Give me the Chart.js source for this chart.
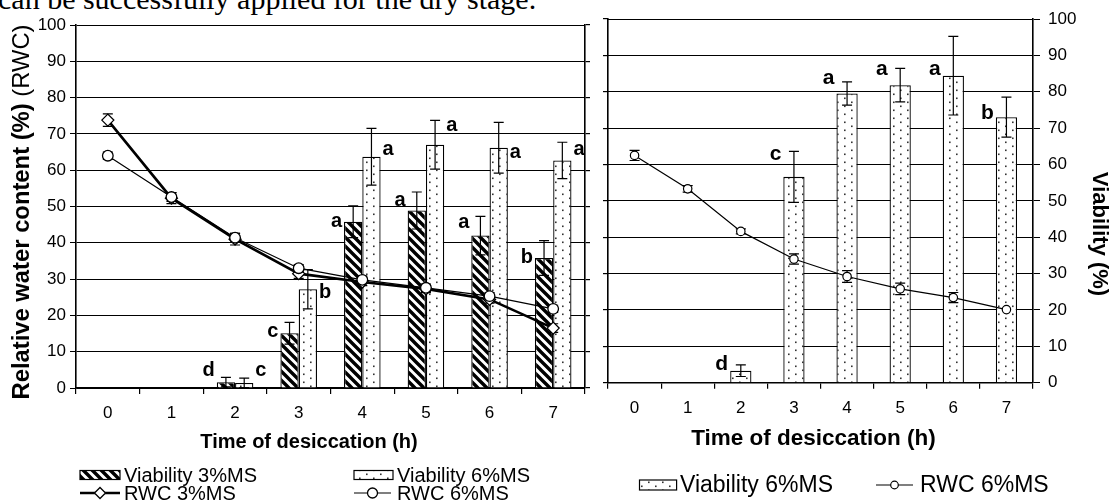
<!DOCTYPE html>
<html>
<head>
<meta charset="utf-8">
<script src="https://cdn.jsdelivr.net/npm/chart.js@4/dist/chart.umd.min.js"></script>
<style>
  html,body{margin:0;padding:0;background:#fff;}
  body{width:1114px;height:503px;overflow:hidden;position:relative;}
  #topText{position:absolute;left:-2px;top:-18.5px;font-family:"Liberation Serif","Times New Roman",serif;font-size:30px;line-height:34px;color:#000;white-space:nowrap;}
  #c1{position:absolute;left:0;top:0;}
  #c2{position:absolute;left:590px;top:0;}
</style>
</head>
<body>
<div id="topText">can be successfully applied for the dry stage.</div>
<canvas id="c1" width="600" height="503"></canvas>
<canvas id="c2" width="524" height="503"></canvas>
<script>
// ---------- data ----------
const categories = ['0','1','2','3','4','5','6','7'];
const yTicks = [0,10,20,30,40,50,60,70,80,90,100];

// left panel
const viab3      = [0, 0, 1.6, 15.1, 45.8, 48.9, 42.0, 35.8];
const viab3Err   = [0, 0, 1.3, 3.0, 4.4, 5.1, 5.3, 4.8];
const viab6L     = [0, 0, 1.4, 27.2, 63.7, 67.0, 66.2, 62.7];
const viab6LErr  = [0, 0, 1.3, 5.4, 7.8, 6.7, 7.0, 5.0];
const rwc3       = [73.8, 52.3, 41.0, 31.5, 29.2, 27.3, 24.4, 16.5];
const rwc3Err    = [1.7, 1.5, 1.6, 1.3, 1.0, 1.0, 1.0, 1.2];
const rwc6L      = [64.0, 52.6, 41.4, 33.0, 29.8, 27.6, 25.3, 21.8];
const rwc6LErr   = [1.0, 1.2, 1.2, 1.0, 1.0, 1.0, 1.0, 1.0];
const letters3   = ['', '', 'd', 'c', 'a', 'a', 'a', 'b'];
const letters3At = [null, null, 4.8, 15.6, 45.8, 51.6, 45.7, 36.0];
const letters6L  = ['', '', 'c', 'b', 'a', 'a', 'a', 'a'];
const letters6LAt= [null, null, 4.8, 26.3, 65.7, 72.2, 65.0, 65.6];

// right panel
const viab6R     = [0, 0, 3.3, 56.6, 79.5, 81.8, 84.4, 73.0];
const viab6RErr  = [0, 0, 1.6, 7.0, 3.2, 4.6, 10.8, 5.5];
const rwc6R      = [62.5, 53.3, 41.6, 34.0, 29.2, 25.8, 23.4, 20.1];
const rwc6RErr   = [1.4, 0.9, 0.7, 1.4, 1.6, 1.6, 1.4, 0];
const lettersR   = ['', '', 'd', 'c', 'a', 'a', 'a', 'b'];
const lettersRAt = [null, null, 5.2, 62.8, 83.7, 86.1, 86.1, 74.0];

// ---------- styling helpers ----------
const FONT = '"Liberation Sans", Arial, Helvetica, sans-serif';
Chart.defaults.font.family = FONT;
Chart.defaults.color = '#000';

function hatchPattern(){
  const s = 9;
  const c = document.createElement('canvas'); c.width = s; c.height = s;
  const g = c.getContext('2d');
  g.fillStyle = '#fff'; g.fillRect(0,0,s,s);
  g.strokeStyle = '#000'; g.lineWidth = 3.4; g.lineCap = 'square';
  g.beginPath();
  for (let o = -s; o <= s; o += s){ g.moveTo(o, 0); g.lineTo(o + s, s); }
  g.stroke();
  return g.createPattern(c, 'repeat');
}
function dotPattern(){
  const w = 14, h = 8;
  const c = document.createElement('canvas'); c.width = w; c.height = h;
  const g = c.getContext('2d');
  g.fillStyle = '#fff'; g.fillRect(0,0,w,h);
  g.fillStyle = '#333';
  g.fillRect(2,1.5,1.6,1.6);
  g.fillRect(9,5.5,1.6,1.6);
  return g.createPattern(c, 'repeat');
}
const HATCH = hatchPattern();
const DOTS = dotPattern();

// error bars: lines drawn behind markers, bars drawn over the bar
function drawErr(chart, index, meta){
  const ds = chart.data.datasets[index];
  if (!ds.errors) return;
  const ys = chart.scales[ds.yAxisID || 'y'];
  const ctx = chart.ctx;
  ctx.save();
  ctx.strokeStyle = '#000'; ctx.lineWidth = 1.2;
  meta.data.forEach((el, i) => {
    const e = ds.errors[i], v = ds.data[i];
    if (!e) return;
    const x = el.x, yt = ys.getPixelForValue(v + e), yb = ys.getPixelForValue(v - e);
    const cw = 5;
    ctx.beginPath();
    ctx.moveTo(x, yt); ctx.lineTo(x, yb);
    ctx.moveTo(x - cw, yt); ctx.lineTo(x + cw, yt);
    ctx.moveTo(x - cw, yb); ctx.lineTo(x + cw, yb);
    ctx.stroke();
  });
  ctx.restore();
}
const errorBars = {
  id: 'errorBars',
  beforeDatasetDraw(chart, args){ if (args.meta.type === 'line') drawErr(chart, args.index, args.meta); },
  afterDatasetDraw(chart, args){ if (args.meta.type === 'bar') drawErr(chart, args.index, args.meta); }
};

// letters of significance
const sigLetters = {
  id: 'sigLetters',
  afterDatasetsDraw(chart, args, opts){
    const ctx = chart.ctx;
    ctx.save();
    ctx.fillStyle = '#000';
    ctx.font = 'bold ' + opts.size + 'px ' + FONT;
    ctx.textBaseline = 'middle';
    chart.data.datasets.forEach((ds, di) => {
      if (!ds.letters) return;
      const meta = chart.getDatasetMeta(di);
      const ys = chart.scales[ds.yAxisID || 'y'];
      meta.data.forEach((el, i) => {
        const t = ds.letters[i];
        if (!t) return;
        const y = ys.getPixelForValue(ds.lettersAt[i]);
        if (ds.letterSide === 'left'){
          ctx.textAlign = 'right';
          ctx.fillText(t, el.x - el.width/2 - 2, y);
        } else {
          ctx.textAlign = 'left';
          ctx.fillText(t, el.x + el.width/2 + 2, y);
        }
      });
    });
    ctx.restore();
  }
};

// axis titles and legends drawn as canvas text
const decor = {
  id: 'decor',
  afterDraw(chart, args, o){
    const ctx = chart.ctx;
    ctx.save();
    ctx.fillStyle = '#000';
    ctx.textBaseline = 'middle';
    ctx.font = 'bold ' + o.xTitle.size + 'px ' + FONT;
    ctx.textAlign = 'center';
    ctx.fillText(o.xTitle.text, o.xTitle.x, o.xTitle.y);
    ctx.save();
    ctx.translate(o.yTitle.x, o.yTitle.y);
    ctx.rotate(o.yTitle.rot);
    let total = 0;
    o.yTitle.parts.forEach(p => { ctx.font = p.weight + ' ' + o.yTitle.size + 'px ' + FONT; p.w = ctx.measureText(p.text).width; total += p.w; });
    let x0 = -total/2;
    ctx.textAlign = 'left';
    o.yTitle.parts.forEach(p => { ctx.font = p.weight + ' ' + o.yTitle.size + 'px ' + FONT; ctx.fillText(p.text, x0, 0); x0 += p.w; });
    ctx.restore();
    o.legend.forEach(it => {
      const ds = chart.data.datasets[it.ds];
      if (it.kind === 'box'){
        ctx.fillStyle = ds.backgroundColor;
        ctx.fillRect(it.x1, it.y - it.h/2, it.x2 - it.x1, it.h);
        ctx.strokeStyle = '#000'; ctx.lineWidth = 1.2;
        ctx.strokeRect(it.x1, it.y - it.h/2, it.x2 - it.x1, it.h);
      } else {
        ctx.strokeStyle = '#000'; ctx.lineWidth = ds.borderWidth;
        ctx.beginPath(); ctx.moveTo(it.x1, it.y); ctx.lineTo(it.x2, it.y); ctx.stroke();
        ctx.fillStyle = '#fff'; ctx.strokeStyle = '#000'; ctx.lineWidth = ds.pointBorderWidth;
        Chart.helpers.drawPoint(ctx, {pointStyle: ds.pointStyle, radius: it.r, borderWidth: ds.pointBorderWidth, rotation: 0}, (it.x1 + it.x2)/2, it.y);
      }
      ctx.fillStyle = '#000';
      ctx.font = o.legendSize + 'px ' + FONT;
      ctx.textAlign = 'left';
      ctx.fillText(ds.label, it.tx, it.y + 1);
    });
    ctx.restore();
  }
};

function tickBuilder(s){ s.ticks = yTicks.map(v => ({value: v})); }

// ---------- left chart ----------
new Chart(document.getElementById('c1'), {
  type: 'bar',
  data: {
    labels: categories,
    datasets: [
      {type:'line', label:'RWC 3%MS', data: rwc3, errors: rwc3Err, yAxisID:'y',
       borderColor:'#000', borderWidth:2.6, tension:0,
       pointStyle:'rectRot', pointRadius:6, pointBackgroundColor:'#fff', pointBorderColor:'#000', pointBorderWidth:1.3, order:1},
      {type:'line', label:'RWC 6%MS', data: rwc6L, errors: rwc6LErr, yAxisID:'y',
       borderColor:'#000', borderWidth:1.2, tension:0,
       pointStyle:'circle', pointRadius:5.3, pointBackgroundColor:'#fff', pointBorderColor:'#000', pointBorderWidth:1.3, order:0},
      {label:'Viability 3%MS', data: viab3, errors: viab3Err, yAxisID:'y',
       backgroundColor: HATCH, borderColor:'#000', borderWidth:1.3, order:2,
       letters: letters3, lettersAt: letters3At, letterSide:'left'},
      {label:'Viability 6%MS', data: viab6L, errors: viab6LErr, yAxisID:'y',
       backgroundColor: DOTS, borderColor:'#000', borderWidth:1.3, order:2,
       letters: letters6L, lettersAt: letters6LAt, letterSide:'right'}
    ]
  },
  options: {
    responsive:false, animation:false, devicePixelRatio:1,
    layout:{padding:{top:25, left:0, right:0, bottom:0}},
    datasets:{bar:{categoryPercentage:0.575, barPercentage:1}},
    plugins:{
      legend:{display:false}, tooltip:{enabled:false},
      sigLetters:{size:20},
      decor:{
        xTitle:{text:'Time of desiccation (h)', x:309, y:442, size:20},
        yTitle:{x:22, y:212, rot:-Math.PI/2, size:23.8,
                parts:[{text:'Relative water content (%)', weight:'bold'},{text:' (RWC)', weight:'normal'}]},
        legendSize:20,
        legend:[
          {kind:'box', ds:2, x1:80, x2:120, y:475, h:9, tx:124},
          {kind:'box', ds:3, x1:354, x2:393, y:475, h:9, tx:397},
          {kind:'line', ds:0, x1:80, x2:120, y:493, r:5.5, tx:124},
          {kind:'line', ds:1, x1:354, x2:391, y:493, r:5, tx:397}
        ]
      }
    },
    scales:{
      x:{type:'category', offset:true,
         grid:{offset:true, drawOnChartArea:false, drawTicks:true, tickLength:6, color:'#000', lineWidth:1.2},
         border:{color:'#000', width:1.5},
         ticks:{font:{size:17}, color:'#000', padding:9, maxRotation:0},
         afterFit(s){ s.height = 115; }},
      y:{position:'left', min:0, max:100, afterBuildTicks: tickBuilder,
         ticks:{font:{size:17}, color:'#000', padding:4},
         grid:{color:'#000', lineWidth:1, tickLength:6},
         border:{color:'#000', width:1.6},
         afterFit(s){ s.width = 76; }},
      y2:{position:'right', min:0, max:100, afterBuildTicks: tickBuilder,
         ticks:{display:false},
         grid:{drawOnChartArea:false, color:'#000', lineWidth:1.2, tickLength:5},
         border:{color:'#000', width:1.6},
         afterFit(s){ s.width = 15; }}
    }
  },
  plugins:[errorBars, sigLetters, decor]
});

// ---------- right chart ----------
new Chart(document.getElementById('c2'), {
  type: 'bar',
  data: {
    labels: categories,
    datasets: [
      {type:'line', label:'RWC 6%MS', data: rwc6R, errors: rwc6RErr, yAxisID:'y',
       borderColor:'#000', borderWidth:1.2, tension:0,
       pointStyle:'circle', pointRadius:4.2, pointBackgroundColor:'#fff', pointBorderColor:'#000', pointBorderWidth:1.2, order:0},
      {label:'Viability 6%MS', data: viab6R, errors: viab6RErr, yAxisID:'y',
       backgroundColor: DOTS, borderColor:'#000', borderWidth:1.3, order:1,
       letters: lettersR, lettersAt: lettersRAt, letterSide:'left'}
    ]
  },
  options: {
    responsive:false, animation:false, devicePixelRatio:1,
    layout:{padding:{top:19, left:0, right:0, bottom:0}},
    datasets:{bar:{categoryPercentage:0.4, barPercentage:1}},
    plugins:{
      legend:{display:false}, tooltip:{enabled:false},
      sigLetters:{size:21},
      decor:{
        xTitle:{text:'Time of desiccation (h)', x:223.5, y:439, size:22.5},
        yTitle:{x:509, y:234, rot:Math.PI/2, size:22,
                parts:[{text:'Viability (%)', weight:'bold'}]},
        legendSize:23,
        legend:[
          {kind:'box', ds:1, x1:49.5, x2:86.6, y:485, h:10, tx:90},
          {kind:'line', ds:0, x1:286, x2:323, y:485, r:3.8, tx:330}
        ]
      }
    },
    scales:{
      x:{type:'category', offset:true,
         grid:{offset:true, drawOnChartArea:false, drawTicks:true, tickLength:6, color:'#000', lineWidth:1.2},
         border:{color:'#000', width:1.5},
         ticks:{font:{size:17}, color:'#000', padding:9, maxRotation:0},
         afterFit(s){ s.height = 120.3; }},
      yl:{position:'left', min:0, max:100, afterBuildTicks: tickBuilder,
         ticks:{display:false},
         grid:{drawOnChartArea:false, color:'#000', lineWidth:1.2, tickLength:5},
         border:{color:'#000', width:1.6},
         afterFit(s){ s.width = 18; }},
      y:{position:'right', min:0, max:100, afterBuildTicks: tickBuilder,
         ticks:{font:{size:17}, color:'#000', padding:8},
         grid:{color:'#000', lineWidth:1, tickLength:7},
         border:{color:'#000', width:1.6},
         afterFit(s){ s.width = 81; }}
    }
  },
  plugins:[errorBars, sigLetters, decor]
});
</script>
</body>
</html>
